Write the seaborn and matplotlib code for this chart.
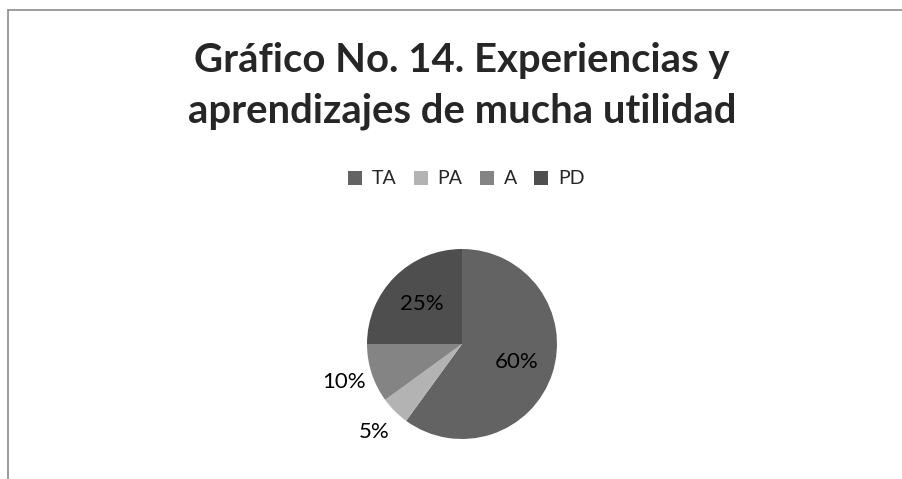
import matplotlib
matplotlib.use("Agg")
import matplotlib.pyplot as plt
import seaborn as sns
import numpy as np
from matplotlib.lines import Line2D
from matplotlib.patches import Patch

categories = ["TA", "PA", "A", "PD"]
values = [60, 5, 10, 25]
colors = ["#636363", "#b3b3b3", "#848484", "#4e4e4e"]
title = "Gráfico No. 14. Experiencias y\naprendizajes de mucha utilidad"

sns.set_theme(style="white")
plt.rcParams["font.family"] = ["Lato", "DejaVu Sans"]

W, H = 902, 479
fig = plt.figure(figsize=(W / 100, H / 100), dpi=100)
fig.patch.set_facecolor("white")

# frame lines (top and left)
fig.add_artist(Line2D([8 / W, 1.0], [1 - 10 / H, 1 - 10 / H], transform=fig.transFigure, color="#8c8c8c", lw=1.2))
fig.add_artist(Line2D([8 / W, 8 / W], [0, 1 - 10 / H], transform=fig.transFigure, color="#8c8c8c", lw=1.2))

cx, cy, r = 462, 344, 95
ax = fig.add_axes([(cx - r) / W, (H - cy - r) / H, 2 * r / W, 2 * r / H])
wedges, texts, autotexts = ax.pie(values, colors=colors, startangle=90, counterclock=False,
                                  autopct=lambda p: f"{p:.0f}%", pctdistance=0.6,
                                  wedgeprops=dict(linewidth=0),
                                  textprops=dict(fontsize=16, color="black"))
for w, t, v in zip(wedges, autotexts, values):
    if v < 15:
        ang = np.deg2rad((w.theta1 + w.theta2) / 2)
        t.set_position((1.31 * np.cos(ang), 1.31 * np.sin(ang)))
ax.set_xlim(-1, 1)
ax.set_ylim(-1, 1)
ax.set_aspect("equal")
ax.axis("off")

baselines = [72, 123]
for line, yb in zip(title.split("\n"), baselines):
    fig.text(cx / W, 1 - yb / H, line, ha="center", va="baseline", fontsize=28.8, fontweight="bold")

handles = [Patch(facecolor=c, edgecolor="none") for c in colors]
fig.legend(handles, categories, loc="center", bbox_to_anchor=(466 / W, 1 - 179 / H), ncol=4,
           frameon=False, fontsize=14, handlelength=0.72, handleheight=0.72, handletextpad=0.5,
           columnspacing=0.9)

fig.savefig("out.png", dpi=100, facecolor="white")
